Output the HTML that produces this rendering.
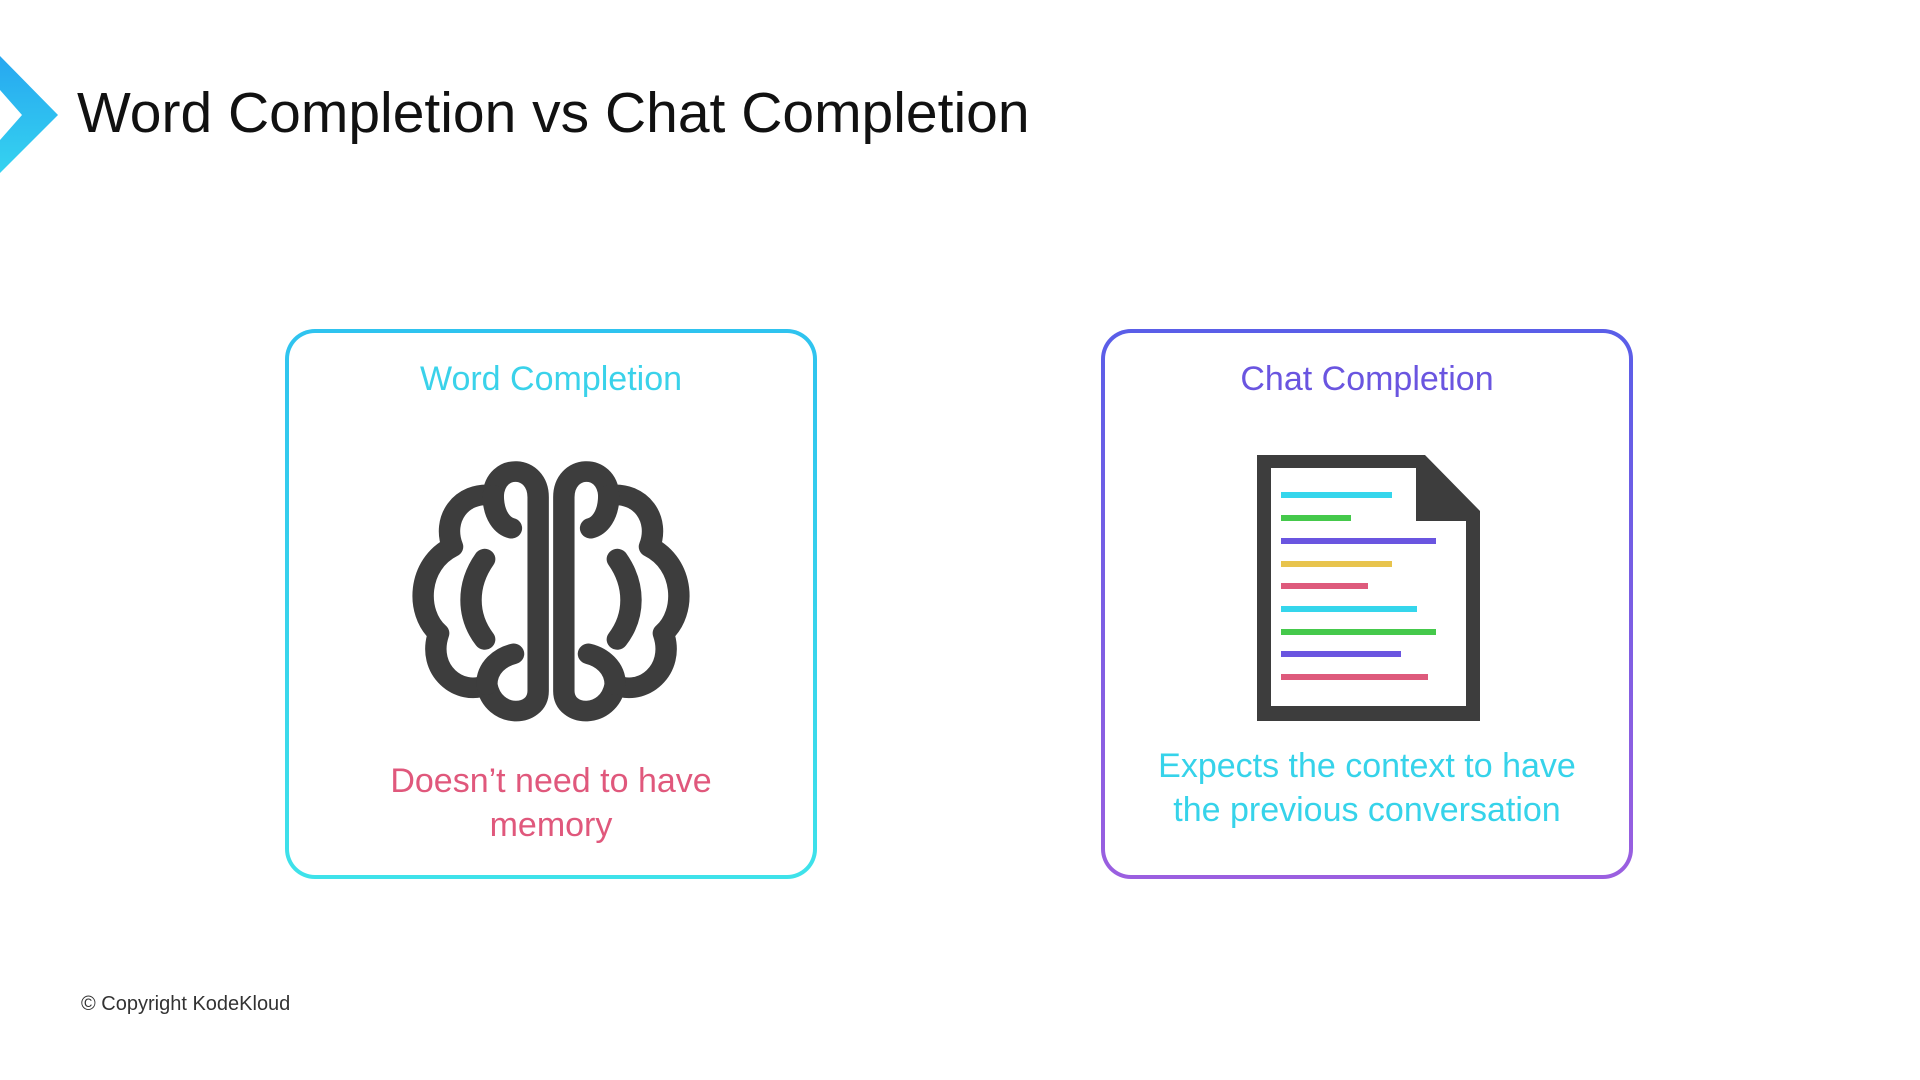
<!DOCTYPE html>
<html><head><meta charset="utf-8"><style>
body{margin:0;width:1920px;height:1080px;background:#fff;position:relative;overflow:hidden;font-family:"Liberation Sans",sans-serif}
.t{position:absolute;white-space:nowrap}
.box{position:absolute;top:329px;width:532px;height:550px;border-radius:30px;padding:4px;box-sizing:border-box}
.box>div{width:100%;height:100%;background:#fff;border-radius:26px}
.c{position:absolute;text-align:center;width:532px;font-size:34px}
</style></head><body>
<svg style="position:absolute;left:0;top:0" width="80" height="200"><defs><linearGradient id="g" x1="0" y1="0" x2="0" y2="1"><stop offset="0" stop-color="#27a7f0"/><stop offset="1" stop-color="#35d3f0"/></linearGradient></defs><polygon points="0,56 58,115 0,173 0,140 22,115 0,90" fill="url(#g)"/></svg>
<div class="t" style="left:77px;top:80px;font-size:57px;color:#111">Word Completion vs Chat Completion</div>

<div class="box" style="left:285px;background:linear-gradient(#2fc3ef,#3ee2ea)"><div></div></div>
<div class="box" style="left:1101px;background:linear-gradient(#5a5ee8,#9b5fe0)"><div></div></div>

<div class="c" style="left:285px;top:360px;color:#3ad2ea">Word Completion</div>
<div class="c" style="left:1101px;top:360px;color:#6a55e0">Chat Completion</div>
<div class="c" style="left:285px;top:759px;color:#e0587c;line-height:44px">Doesn’t need to have<br>memory</div>
<div class="c" style="left:1101px;top:744px;color:#36d3ea;line-height:44px">Expects the context to have<br>the previous conversation</div>

<svg style="position:absolute;left:0;top:0" width="1920" height="1080">
<g transform="translate(551,590) scale(1.07,1.03) translate(-557,-590)">
<g fill="none" stroke="#3d3d3d" stroke-width="20" stroke-linecap="round" stroke-linejoin="round">
<g id="L">
<path d="M545,500 C545,468 505,466 503,498 C472,494 455,522 465,548 C432,565 430,612 452,632 C440,668 472,694 497,682 C503,716 545,714 545,688 Z"/>
<path d="M503,498 C503,518 512,528 520,530"/>
<path d="M497,682 C497,665 510,655 522,652"/>
<path d="M495,560 C478,585 478,615 495,638"/>
</g>
<use href="#L" transform="translate(1114,0) scale(-1,1)"/>
</g>
</g>
<g transform="translate(-3,0)">
<path d="M1260,455 H1428 L1483,511 V721 H1260 Z M1274,468 V706 H1469 V521 H1419 V468 Z" fill="#3d3d3d" fill-rule="evenodd"/>
<g stroke-width="6">
<line x1="1284" y1="495" x2="1395" y2="495" stroke="#35d6ec"/>
<line x1="1284" y1="518" x2="1354" y2="518" stroke="#45c94b"/>
<line x1="1284" y1="541" x2="1439" y2="541" stroke="#6a55e0"/>
<line x1="1284" y1="564" x2="1395" y2="564" stroke="#e8c44d"/>
<line x1="1284" y1="586" x2="1371" y2="586" stroke="#de5a7c"/>
<line x1="1284" y1="609" x2="1420" y2="609" stroke="#35d6ec"/>
<line x1="1284" y1="632" x2="1439" y2="632" stroke="#45c94b"/>
<line x1="1284" y1="654" x2="1404" y2="654" stroke="#6a55e0"/>
<line x1="1284" y1="677" x2="1431" y2="677" stroke="#de5a7c"/>
</g>
</g>
</svg>
<div class="t" style="left:81px;top:993px;font-size:20px;color:#333">© Copyright KodeKloud</div>
</body></html>
